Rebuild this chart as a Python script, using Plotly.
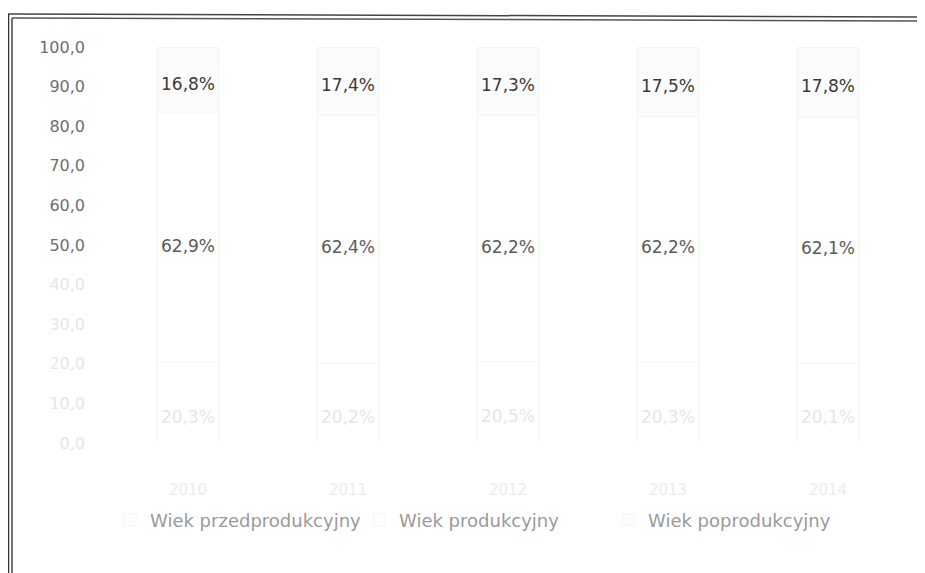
import plotly.graph_objects as go

# Data
categories = ["2010", "2011", "2012", "2013", "2014"]
przedprodukcyjny = [20.3, 20.2, 20.5, 20.3, 20.1]
produkcyjny = [62.9, 62.4, 62.2, 62.2, 62.1]
poprodukcyjny = [16.8, 17.4, 17.3, 17.5, 17.8]
series_names = ["Wiek przedprodukcyjny", "Wiek produkcyjny", "Wiek poprodukcyjny"]
tick_vals = [0, 10, 20, 30, 40, 50, 60, 70, 80, 90, 100]
tick_labels = ["0,0", "10,0", "20,0", "30,0", "40,0", "50,0", "60,0", "70,0", "80,0", "90,0", "100,0"]

W, H = 925, 573
FONT = "DejaVu Sans"
OFF = 8  # page body margin offset

def pct(v):
    return [f"{x:.1f}".replace(".", ",") + "%" for x in v]

faint = "#e6e6e6"
ticktext = []
for v, t in zip(tick_vals, tick_labels):
    if v < 50:
        ticktext.append(f'<span style="color:{faint}">{t}</span>')
    else:
        ticktext.append(t)

fig = go.Figure()
specs = [
    (przedprodukcyjny, series_names[0], "#ffffff", faint, -14),
    (produkcyjny, series_names[1], "#ffffff", "#5a5a5a", -8),
    (poprodukcyjny, series_names[2], "#fcfcfc", "#3a3a3a", -4),
]
base = [0.0] * len(categories)
annotations = []
for vals, name, fill, tcol, shift in specs:
    fig.add_trace(go.Bar(
        x=categories, y=vals, name=name,
        marker=dict(color=fill, line=dict(color="#f4f4f4", width=1)),
        cliponaxis=False,
    ))
    for i, v in enumerate(vals):
        annotations.append(dict(
            x=i, y=base[i] + v / 2, xref="x", yref="y", text=pct([v])[0],
            showarrow=False, yshift=shift,
            font=dict(family=FONT, size=17, color=tcol),
        ))
        base[i] += v

x0, x1 = 108 - OFF, 908 - OFF
y_top, y_bot = 47 - OFF, 443 - OFF
fig.update_layout(
    width=W, height=H,
    barmode="stack", bargap=0.62,
    paper_bgcolor="white", plot_bgcolor="white",
    margin=dict(l=0, r=0, t=0, b=0, autoexpand=False),
    font=dict(family=FONT, size=16, color="#555555"),
    xaxis=dict(type="category", domain=[x0 / W, x1 / W], showgrid=False, zeroline=False,
               showline=False, ticks="", ticklabelstandoff=36, automargin=False,
               range=[-0.5, len(categories) - 0.5],
               tickfont=dict(color="#ececec", size=15)),
    yaxis=dict(domain=[(H - y_bot) / H, (H - y_top) / H], range=[0, 100],
               tickvals=tick_vals, ticktext=ticktext, showgrid=False,
               zeroline=False, showline=False, ticks="", ticklabelstandoff=22,
               automargin=False,
               tickfont=dict(color="#6e6e6e", size=16)),
    showlegend=True,
    legend=dict(orientation="h", x=(110 - OFF) / W, xanchor="left",
                y=(H - (520 - OFF)) / H, yanchor="middle",
                font=dict(family=FONT, size=18, color="#9a9a9a"),
                entrywidth=204, entrywidthmode="pixels",
                bgcolor="rgba(0,0,0,0)", traceorder="normal"),
    annotations=annotations,
)

# scanned frame (double line at top and left)
def px(x):
    return (x - OFF) / W

def py(y):
    return (H - (y - OFF)) / H

shapes = [
    dict(type="line", xref="paper", yref="paper", x0=px(8), x1=px(933), y0=py(14), y1=py(17),
         line=dict(color="#444444", width=1.5)),
    dict(type="line", xref="paper", yref="paper", x0=px(12), x1=px(933), y0=py(18), y1=py(21),
         line=dict(color="#555555", width=1.5)),
    dict(type="line", xref="paper", yref="paper", x0=px(8.5), x1=px(8.5), y0=py(14), y1=py(581),
         line=dict(color="#333333", width=1.5)),
    dict(type="line", xref="paper", yref="paper", x0=px(12), x1=px(12), y0=py(18), y1=py(581),
         line=dict(color="#444444", width=1.5)),
]
fig.update_layout(shapes=shapes)

fig.write_html("out.html")
